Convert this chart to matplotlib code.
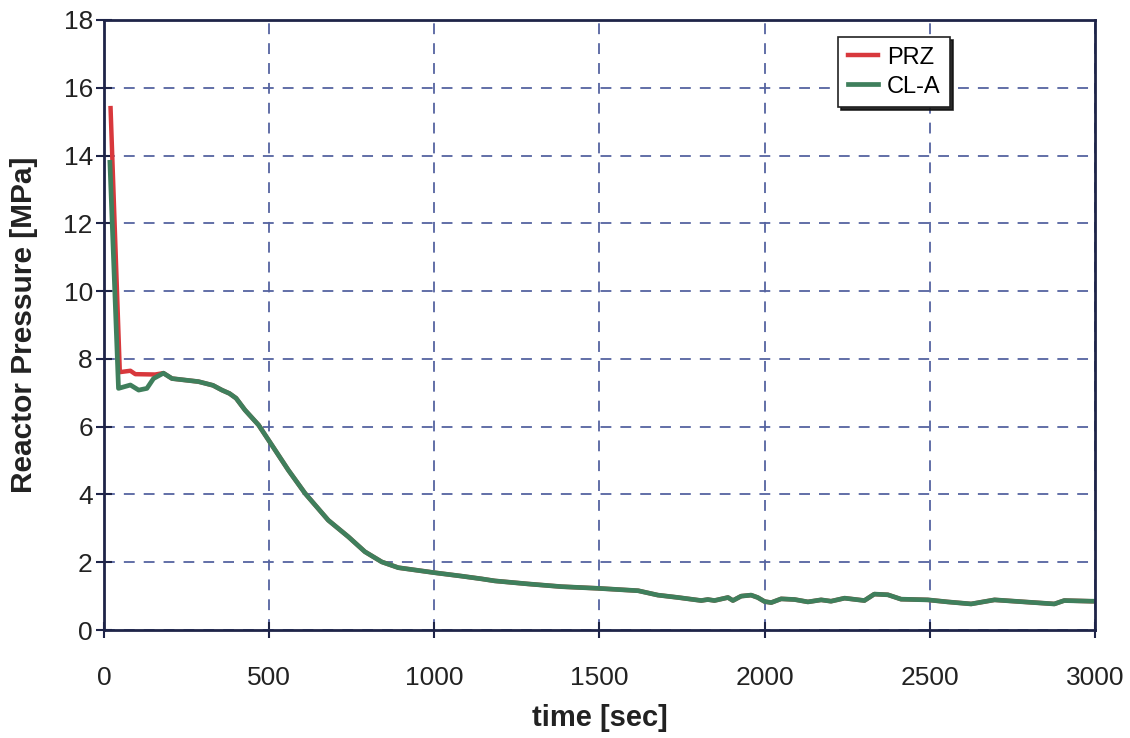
import matplotlib.pyplot as plt
from matplotlib.ticker import MultipleLocator

plt.rcParams['font.family'] = ['Liberation Sans', 'DejaVu Sans']

# pressurizer pressure (s, MPa)
t_prz = [20, 48, 80, 95, 155, 180]
p_prz = [15.4, 7.61, 7.65, 7.55, 7.54, 7.58]

# cold leg A pressure (s, MPa)
t_cla = [18, 44, 80, 105, 130, 150, 180, 206, 286, 330, 357, 380, 400, 427,
         468, 508, 558, 609, 679, 740, 790, 841, 891, 1002, 1083, 1143, 1183,
         1284, 1385, 1496, 1617, 1677, 1738, 1808, 1828, 1848, 1889, 1904,
         1929, 1959, 1979, 2000, 2020, 2050, 2091, 2131, 2171, 2201, 2242,
         2302, 2332, 2373, 2413, 2494, 2554, 2625, 2696, 2756, 2877, 2907,
         2988, 3000]
p_cla = [13.8, 7.13, 7.23, 7.08, 7.13, 7.42, 7.58, 7.42, 7.33, 7.22, 7.08,
         6.98, 6.84, 6.49, 6.05, 5.46, 4.72, 4.03, 3.24, 2.75, 2.31, 2.01,
         1.84, 1.69, 1.59, 1.51, 1.45, 1.36, 1.28, 1.23, 1.16, 1.03, 0.96,
         0.87, 0.90, 0.87, 0.96, 0.87, 1.00, 1.03, 0.96, 0.84, 0.81, 0.92,
         0.90, 0.83, 0.89, 0.85, 0.94, 0.87, 1.06, 1.04, 0.91, 0.89, 0.83,
         0.77, 0.89, 0.85, 0.77, 0.87, 0.85, 0.85]

navy = '#1e2448'
fig = plt.figure(figsize=(11.3, 7.38), dpi=100)
ax = fig.add_axes([0.092, 0.1463, 0.877, 0.8266])

# PRZ joins the cold leg trace once the two pressures equalise
ax.plot(t_prz + t_cla[6:], p_prz + p_cla[6:], color='#d8383c', lw=3.2, label='PRZ')
ax.plot(t_cla, p_cla, color='#3f7f5c', lw=3.4, label='CL-A')

ax.set_xlim(0, 3000)
ax.set_ylim(0, 18)
ax.xaxis.set_major_locator(MultipleLocator(500))
ax.yaxis.set_major_locator(MultipleLocator(2))
ax.grid(True, color='#5563a0', ls=(0, (6, 5)), lw=1.3)
ax.set_axisbelow(True)
for s in ax.spines.values():
    s.set_color(navy)
    s.set_linewidth(2)
ax.tick_params(direction='inout', length=12, width=1.5, color=navy,
               labelsize=19, labelcolor='#222222')
ax.tick_params(axis='x', pad=20)
ax.tick_params(axis='y', pad=2)

ax.set_xlabel('time [sec]', fontsize=21, fontweight='bold', color='#222222', labelpad=10)
ax.set_ylabel('Reactor Pressure [MPa]', fontsize=21.5, fontweight='bold', color='#222222', labelpad=18)

leg = ax.legend(loc='upper left', bbox_to_anchor=(0.741, 0.972), borderaxespad=0,
                fontsize=17, frameon=True, fancybox=False,
                shadow={'color': '#111111', 'alpha': 0.9},
                edgecolor='#222222', framealpha=1, handlelength=1.3,
                handletextpad=0.35, borderpad=0.4, labelspacing=0.3)
leg.get_frame().set_linewidth(1.2)

fig.savefig('out.png', dpi=100)
